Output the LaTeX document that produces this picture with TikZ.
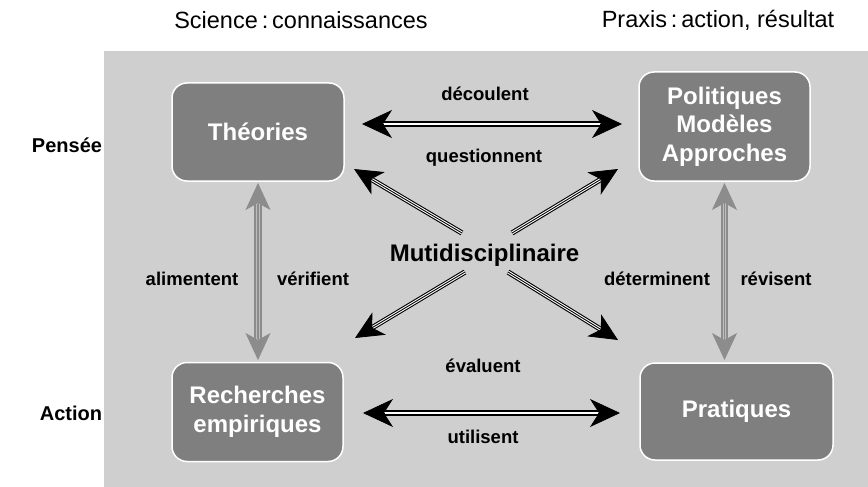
\documentclass[tikz,border=0pt]{standalone}
\usepackage{fontspec}
\setmainfont{Liberation Sans}
\usetikzlibrary{arrows.meta}
\definecolor{bggray}{HTML}{CFCFCF}
\definecolor{boxgray}{HTML}{7F7F7F}
\definecolor{vgray}{HTML}{8C8C8C}
\definecolor{vlight}{HTML}{BEBEBE}
\tikzset{
  htip/.tip={Stealth[length=30pt,width=28pt,inset=9pt]},
  dtip/.tip={Stealth[length=28pt,width=26pt,inset=8pt]},
  vtip/.tip={Stealth[length=27pt,width=25pt,inset=7pt]},
}
\begin{document}
\begin{tikzpicture}[x=1pt,y=-1pt,
  box/.style={draw=white, line width=1.5pt, fill=boxgray, rounded corners=15pt, text=white,
    font=\fontsize{24}{28.5}\selectfont\bfseries, align=center, inner sep=0pt},
  lbl/.style={font=\fontsize{18.5}{22}\selectfont\bfseries, text=black, inner sep=0pt},
  toplbl/.style={font=\fontsize{23.5}{27}\selectfont, text=black, inner sep=0pt},
  sidelbl/.style={font=\fontsize{20}{24}\selectfont\bfseries, text=black, inner sep=0pt},
  hguide/.style={draw=black, line width=0.8pt},
  hshaft/.style={draw=black, line width=2.6pt, double=white, double distance=1.3pt},
  dguide/.style={draw=black, line width=0.8pt},
  dshaft/.style={draw=black, line width=1.1pt, double=white, double distance=3pt},
  dcore/.style={draw=black, line width=0.9pt},
  vguide/.style={draw=vgray, line width=0.8pt},
  vshaft/.style={draw=vgray, line width=1.8pt, double=vlight, double distance=3.6pt},
  vcore/.style={draw=vgray, line width=1.3pt},
]
\useasboundingbox (0,0) rectangle (868,487);
\fill[bggray] (104,51) rectangle (868,487);

% top and side labels
\node[toplbl] (sci) at (301,20) {Science\,:\,connaissances};
\node[toplbl] (prax) at (718,20) {Praxis\,:\,action, résultat};
\node[sidelbl] (pens) at (67,145) {Pensée};
\node[sidelbl] (act) at (71,413) {Action};

% boxes
\node[box, minimum width=172pt, minimum height=98pt] (theo) at (258,132) {Théories};
\node[box, minimum width=171pt, minimum height=109pt] (pol) at (724.5,126.5) {Politiques\\Modèles\\Approches};
\node[box, minimum width=171pt, minimum height=99pt] (rech) at (257.5,412) {Recherches\\empiriques};
\node[box, minimum width=193pt, minimum height=97pt] (prat) at (736.5,411.5) {Pratiques};

% arrow end points
\coordinate (hta) at (362,124);
\coordinate (htb) at (622,124);
\coordinate (hba) at (363,413);
\coordinate (hbb) at (620,413);
\coordinate (vla) at (258,183);
\coordinate (vlb) at (258,360);
\coordinate (vra) at (724.5,183);
\coordinate (vrb) at (724.5,360);
\coordinate (ctl) at (462,233);
\coordinate (ctr) at (512,233);
\coordinate (cbl) at (465,272);
\coordinate (cbr) at (508,272);
\coordinate (ttl) at (354,169);
\coordinate (ttr) at (618,169);
\coordinate (tbl) at (355,338);
\coordinate (tbr) at (618,340);

% horizontal arrows
\draw[hguide, {htip}-{htip}] (hta) -- (htb);
\draw[hshaft, shorten <=22pt, shorten >=22pt] (hta) -- (htb);
\draw[hguide, {htip}-{htip}] (hba) -- (hbb);
\draw[hshaft, shorten <=22pt, shorten >=22pt] (hba) -- (hbb);

% vertical arrows
\draw[vguide, {vtip}-{vtip}] (vla) -- (vlb);
\draw[vshaft, shorten <=21pt, shorten >=21pt] (vla) -- (vlb);
\draw[vcore, shorten <=21pt, shorten >=21pt] (vla) -- (vlb);
\draw[vguide, {vtip}-{vtip}] (vra) -- (vrb);
\draw[vshaft, shorten <=21pt, shorten >=21pt] (vra) -- (vrb);
\draw[vcore, shorten <=21pt, shorten >=21pt] (vra) -- (vrb);

% diagonal arrows
\foreach \s/\t in {ctl/ttl, ctr/ttr, cbl/tbl, cbr/tbr}{
  \draw[dguide, -{dtip}] (\s) -- (\t);
  \draw[dshaft, shorten >=21pt] (\s) -- (\t);
  \draw[dcore, shorten >=21pt] (\s) -- (\t);
}

% labels
\node[lbl] (l1) at (485,94) {découlent};
\node[lbl] (l2) at (484,158) {questionnent};
\node[font=\fontsize{24}{28}\selectfont\bfseries, inner sep=0pt] (multi) at (484.5,255) {Mutidisciplinaire};
\node[lbl] (l3) at (192,279) {alimentent};
\node[lbl] (l4) at (313,279) {vérifient};
\node[lbl] (l5) at (657,279) {déterminent};
\node[lbl] (l6) at (776,279) {révisent};
\node[lbl] (l7) at (483,366) {évaluent};
\node[lbl] (l8) at (483,437) {utilisent};
\end{tikzpicture}
\end{document}
